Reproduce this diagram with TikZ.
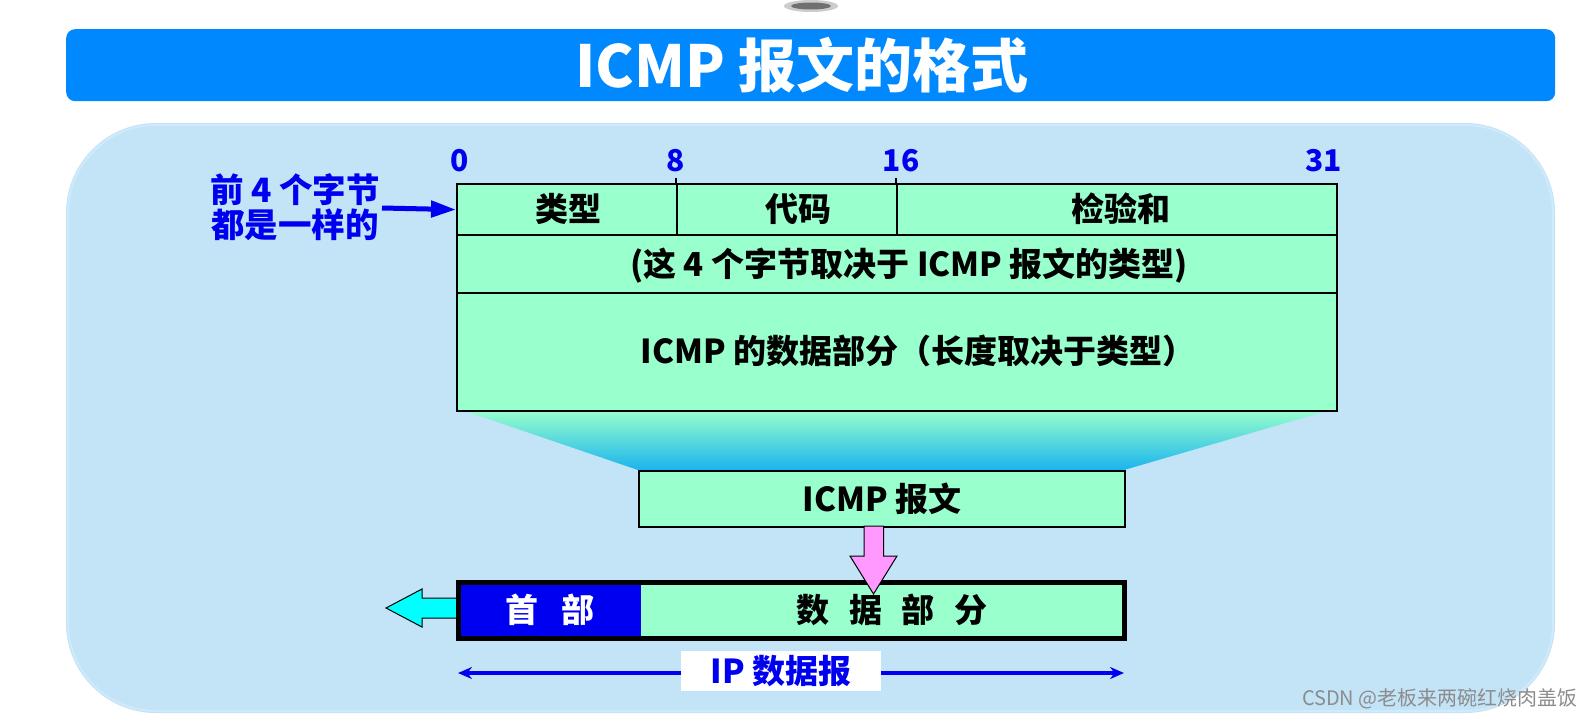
\documentclass[tikz,border=0pt]{standalone}
\usepackage{fontspec}
\setmainfont{Noto Sans CJK SC}
\usetikzlibrary{arrows.meta,calc}
\definecolor{titleblue}{HTML}{0088FF}
\definecolor{bgblue}{HTML}{C3E3F7}
\definecolor{bgedge}{HTML}{CFEAFB}
\definecolor{cellgreen}{HTML}{99FFCC}
\definecolor{txtblue}{HTML}{0000F0}
\definecolor{pinkA}{HTML}{FF99FF}
\definecolor{cyanA}{HTML}{00FFFF}
\definecolor{funnelmid}{HTML}{7CEDE2}
\definecolor{funnelbot}{HTML}{1AB4EE}
\definecolor{wmgray}{HTML}{8C8C8C}
\begin{document}
\begin{tikzpicture}[x=1pt,y=-1pt,
  cell/.style={draw=black, line width=2.2pt, fill=cellgreen, inner sep=0pt, anchor=north west},
  lbl/.style={font=\bfseries\fontsize{33}{36}\selectfont, inner sep=0pt},
  bitlbl/.style={font=\bfseries\fontsize{30}{32}\selectfont, text=txtblue, inner sep=0pt},
]
\useasboundingbox (0,0) rectangle (1594,718);
\fill[white] (0,0) rectangle (1594,718);
% small grey blob at top
\fill[gray, opacity=0.4] (811,6) ellipse [x radius=27, y radius=6];
\fill[black!65, opacity=0.8] (811,6) ellipse [x radius=20, y radius=3.5];
% title bar
\node[fill=titleblue, rounded corners=9pt, minimum width=1489, minimum height=72, inner sep=0pt, anchor=north west] (title) at (66,29) {};
\node[font=\bfseries\fontsize{58}{60}\selectfont, text=white, inner sep=0pt] (titletext) at (802,65) {ICMP 报文的格式};
% background panel
\fill[bgblue, rounded corners=90pt] (66,123) rectangle (1555,713);
\draw[bgedge, line width=2pt, rounded corners=88pt] (68,125) rectangle (1553,711);
% funnel
\shade[top color=cellgreen, middle color=funnelmid, bottom color=funnelbot] (462,410) -- (1330,410) -- (1124,470) -- (638,470) -- cycle;
% table
\node[cell, minimum width=220, minimum height=51] (c1) at (456,183) {};
\node[cell, minimum width=220, minimum height=51] (c2) at (676,183) {};
\node[cell, minimum width=440, minimum height=51] (c3) at (896,183) {};
\node[cell, minimum width=880, minimum height=58] (r2) at (456,234) {};
\node[cell, minimum width=880, minimum height=118] (r3) at (456,292) {};
\draw[line width=2.2pt] (c2.north west) -- ++(0,-5);
\draw[line width=2.2pt] (c3.north west) -- ++(0,-5);
\node[lbl] (l1) at (568,208.5) {类型};
\node[lbl] (l2) at (798,208.5) {代码};
\node[lbl] (l3) at (1121,208.5) {检验和};
\node[lbl] (l4) at (909,266) {(这 4 个字节取决于 ICMP 报文的类型)};
\node[lbl] (l5) at (918,351) {ICMP 的数据部分（长度取决于类型）};
% bit numbers
\node[bitlbl] (b0) at (459.5,161) {0};
\node[bitlbl] (b8) at (676,161) {8};
\node[bitlbl] (b16) at (901,161) {16};
\node[bitlbl, anchor=east] (b31) at (1342,161) {31};
% left note
\node[font=\bfseries\fontsize{33.5}{35}\selectfont, text=txtblue, align=center, inner sep=0pt] (note) at (295,207) {前 4 个字节\\都是一样的};
\coordinate (nstart) at (382,208);
\draw[line width=5pt, txtblue, -{Triangle[length=25pt,width=16pt]}] (nstart) -- (c1.west);
% ICMP message box
\node[cell, minimum width=486, minimum height=56, font=\bfseries\fontsize{33}{36}\selectfont] (icmp) at (638,470) {ICMP 报文};
% cyan arrow (left)
\draw[fill=cyanA, line width=1pt, line join=miter] (457,598) -- (422,598) -- (422,589) -- (386,608) -- (422,627) -- (422,618) -- (457,618);
% IP datagram bar
\node[fill=txtblue, inner sep=0pt, minimum width=184, minimum height=58, anchor=north west] (hdr) at (457,581) {};
\node[fill=cellgreen, draw=txtblue, line width=1pt, inner sep=0pt, minimum width=484, minimum height=56, anchor=north west] (data) at (639.5,582) {};
\node[text=white, lbl] (hdrtext) at (550,610) {首\hspace{0.7em}部};
\node[lbl] (datatext) at (892,610) {数\hspace{0.6em}据\hspace{0.6em}部\hspace{0.6em}分};
\node[draw=black, line width=5pt, inner sep=0pt, minimum width=666, minimum height=56, anchor=north west] (ipbar) at (456,580) {};
% pink arrow
\draw[fill=pinkA, line width=1pt, line join=miter] (864,526) -- (864,556) -- (850,556) -- (873.5,594) -- (897,556) -- (883.5,556) -- (883.5,526) -- cycle;
% IP datagram span arrow
\coordinate (ipL) at (458,673);
\coordinate (ipR) at (1124,673);
\draw[txtblue, line width=4pt, {Stealth[length=14pt,width=12pt]}-{Stealth[length=14pt,width=12pt]}] (ipL) -- (ipR);
\node[fill=white, minimum width=200, minimum height=40, inner sep=0pt, text=txtblue, font=\bfseries\fontsize{33}{36}\selectfont] (iplbl) at (781,671) {IP 数据报};
% watermark
\node[anchor=east, text=wmgray, font=\fontsize{20}{22}\selectfont, inner sep=0pt] (wm) at (1578,699) {CSDN @老板来两碗红烧肉盖饭};
\end{tikzpicture}
\end{document}
